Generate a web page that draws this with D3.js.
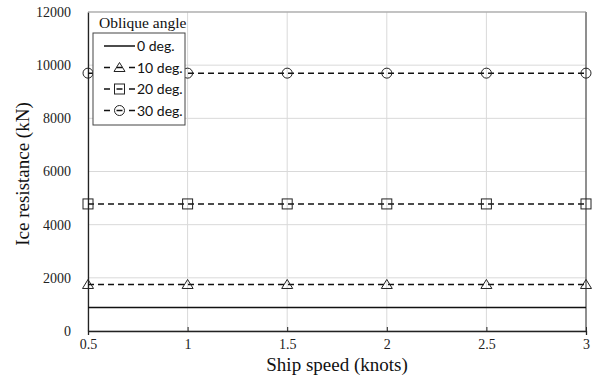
<!DOCTYPE html>
<html>
<head>
<meta charset="utf-8">
<script src="https://cdn.jsdelivr.net/npm/d3@7"></script>
<style>
  body { margin: 0; background: #fff; }
</style>
</head>
<body>
<div id="chart"></div>
<script>
var width = 595, height = 376;

const speeds = [0.5, 1, 1.5, 2, 2.5, 3];
const deg0 = [880, 880, 880, 880, 880, 880];
const deg10 = [1750, 1750, 1750, 1750, 1750, 1750];
const deg20 = [4780, 4780, 4780, 4780, 4780, 4780];
const deg30 = [9700, 9700, 9700, 9700, 9700, 9700];
const seriesNames = ["0 deg.", "10 deg.", "20 deg.", "30 deg."];
const yTicks = [0, 2000, 4000, 6000, 8000, 10000, 12000];
const xTicks = [0.5, 1, 1.5, 2, 2.5, 3];

const margin = {left: 88, right: 9, top: 12, bottom: 45};
const serif = "'Liberation Serif', 'DejaVu Serif', serif";

const x = d3.scaleLinear().domain([0.5, 3]).range([margin.left, width - margin.right]);
const y = d3.scaleLinear().domain([0, 12000]).range([height - margin.bottom, margin.top]);

const svg = d3.select("#chart").append("svg")
    .attr("width", width)
    .attr("height", height);

// grid
svg.append("g").selectAll("line")
    .data(xTicks)
    .join("line")
    .attr("x1", d => x(d)).attr("x2", d => x(d))
    .attr("y1", y(0)).attr("y2", y(12000))
    .attr("stroke", "#d9d9d9").attr("stroke-width", 1);

svg.append("g").selectAll("line")
    .data(yTicks)
    .join("line")
    .attr("x1", x(0.5)).attr("x2", x(3))
    .attr("y1", d => y(d)).attr("y2", d => y(d))
    .attr("stroke", "#d9d9d9").attr("stroke-width", 1);

// axes
const xAxis = svg.append("g")
    .attr("transform", "translate(0," + y(0) + ")")
    .call(d3.axisBottom(x).tickValues(xTicks).tickSize(4).tickFormat(d3.format("")));
xAxis.select(".domain").attr("stroke", "#222").attr("stroke-width", 1.3);
xAxis.selectAll(".tick line").attr("stroke", "#222").attr("transform", "translate(0,-4)");
xAxis.selectAll("text")
    .style("font-family", serif).style("font-size", "14px")
    .attr("fill", "#222")
    .attr("dy", "0.78em");

const yAxis = svg.append("g")
    .attr("transform", "translate(" + x(0.5) + ",0)")
    .call(d3.axisLeft(y).tickValues(yTicks).tickSize(0).tickPadding(17).tickFormat(d3.format("d")));
yAxis.select(".domain").attr("stroke", "#222").attr("stroke-width", 1.3);
yAxis.selectAll("text")
    .style("font-family", serif).style("font-size", "14px")
    .attr("fill", "#222");

// right and top border
svg.append("line")
    .attr("x1", x(3)).attr("x2", x(3))
    .attr("y1", y(0)).attr("y2", y(12000))
    .attr("stroke", "#333").attr("stroke-width", 1);
svg.append("line")
    .attr("x1", x(0.5)).attr("x2", x(3))
    .attr("y1", y(12000)).attr("y2", y(12000))
    .attr("stroke", "#999").attr("stroke-width", 1);

// titles
svg.append("text")
    .attr("x", (x(0.5) + x(3)) / 2).attr("y", 371)
    .attr("text-anchor", "middle")
    .style("font-family", serif).style("font-size", "19px")
    .attr("fill", "#111")
    .text("Ship speed (knots)");

svg.append("text")
    .attr("transform", "translate(29,174) rotate(-90)")
    .attr("text-anchor", "middle")
    .style("font-family", serif).style("font-size", "19px")
    .attr("fill", "#111")
    .text("Ice resistance (kN)");

// series
const series = [
  {name: seriesNames[0], values: deg0, dash: null, marker: null},
  {name: seriesNames[1], values: deg10, dash: "6,4", marker: "triangle"},
  {name: seriesNames[2], values: deg20, dash: "6,4", marker: "square"},
  {name: seriesNames[3], values: deg30, dash: "6,4", marker: "circle"}
];

const line = d3.line().x((d, i) => x(speeds[i])).y(d => y(d));

function drawMarker(g, type, cx, cy) {
  if (type === "circle") {
    g.append("circle").attr("cx", cx).attr("cy", cy).attr("r", 5)
      .attr("fill", "none").attr("stroke", "#222").attr("stroke-width", 1);
  } else if (type === "square") {
    g.append("rect").attr("x", cx - 5).attr("y", cy - 5).attr("width", 10).attr("height", 10)
      .attr("fill", "none").attr("stroke", "#222").attr("stroke-width", 1);
  } else if (type === "triangle") {
    g.append("path")
      .attr("d", "M" + cx + "," + (cy - 5) + "L" + (cx + 5.5) + "," + (cy + 4) + "L" + (cx - 5.5) + "," + (cy + 4) + "Z")
      .attr("fill", "none").attr("stroke", "#222").attr("stroke-width", 1);
  }
}

series.forEach(function(s) {
  svg.append("path")
    .datum(s.values)
    .attr("d", line)
    .attr("fill", "none")
    .attr("stroke", "#111")
    .attr("stroke-width", 1.5)
    .attr("stroke-dasharray", s.dash);
  const mg = svg.append("g");
  s.values.forEach(function(v, i) {
    if (s.marker) drawMarker(mg, s.marker, x(speeds[i]), y(v));
  });
});

// legend
const leg = svg.append("g");
leg.append("text")
    .attr("x", 99).attr("y", 28)
    .style("font-family", serif).style("font-size", "15.5px")
    .attr("fill", "#111")
    .text("Oblique angle");
leg.append("rect")
    .attr("x", 93).attr("y", 33).attr("width", 92).attr("height", 92)
    .attr("fill", "#fff").attr("stroke", "#444").attr("stroke-width", 1);

series.forEach(function(s, i) {
  const ly = 46 + i * 21.5;
  leg.append("line")
    .attr("x1", 104).attr("x2", 135)
    .attr("y1", ly).attr("y2", ly)
    .attr("stroke", "#111").attr("stroke-width", 1.5)
    .attr("stroke-dasharray", s.dash ? "6,6.5" : null);
  if (s.marker) drawMarker(leg, s.marker, 119.5, ly);
  leg.append("text")
    .attr("x", 137).attr("y", ly)
    .attr("dy", "0.36em")
    .style("font-family", "Lato, 'Open Sans', sans-serif").style("font-size", "14px")
    .attr("fill", "#111")
    .text(s.name);
});
</script>
</body>
</html>
